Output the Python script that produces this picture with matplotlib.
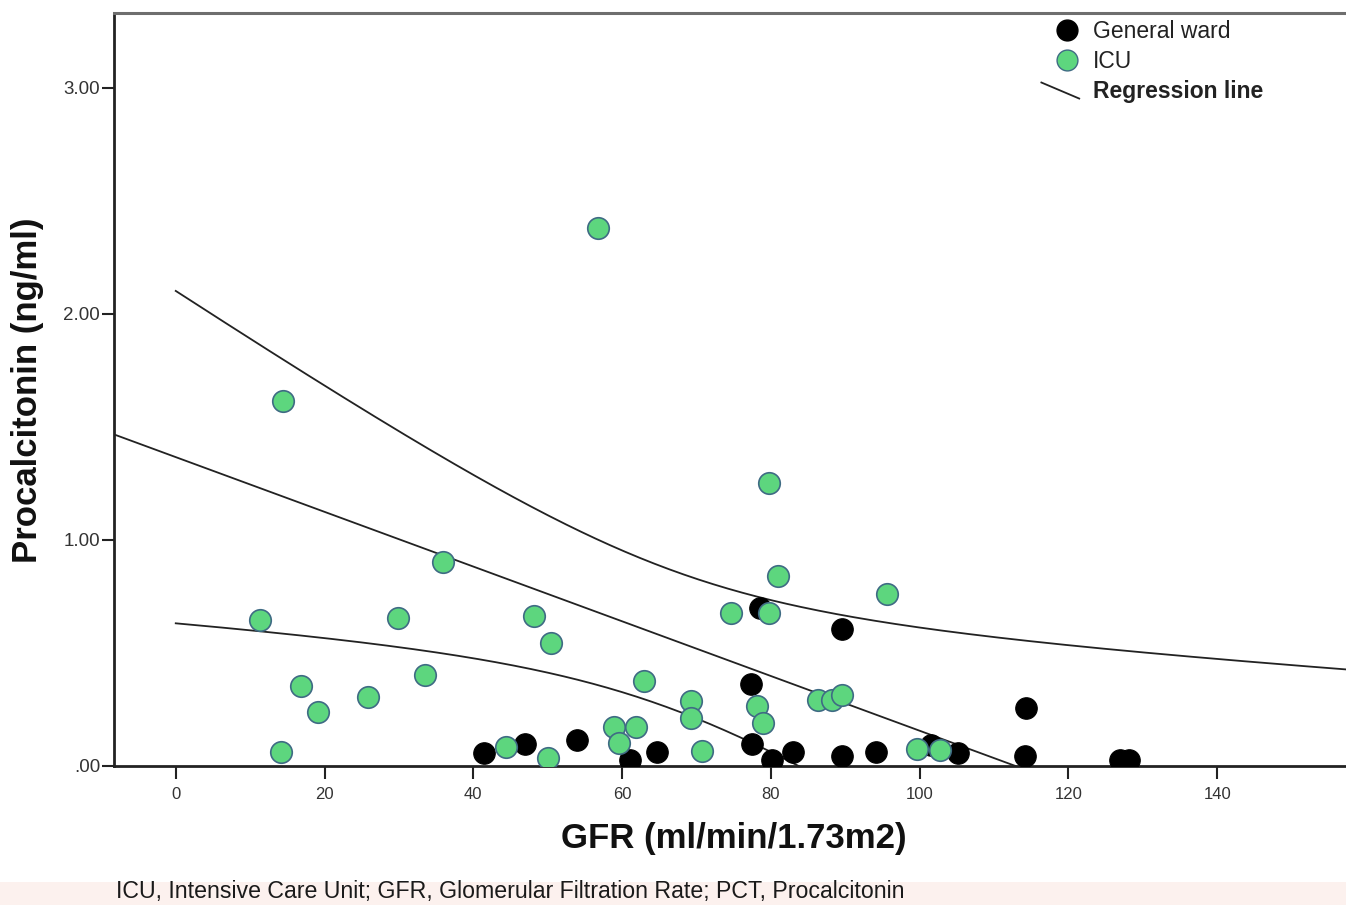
import numpy as np
import matplotlib
matplotlib.use("Agg")
import matplotlib.pyplot as plt
from matplotlib.lines import Line2D
from matplotlib.legend_handler import HandlerBase
from matplotlib.patches import Rectangle

# ---------------- data ----------------
icu_gfr = [56.7, 14.4, 79.8, 35.9, 80.9, 95.6, 74.6, 79.7, 48.2, 29.9, 11.3,
           50.5, 33.5, 62.9, 16.8, 25.8, 19.1, 14.1, 44.4, 50.1, 58.9, 59.6,
           61.9, 69.2, 69.3, 70.7, 78.1, 79.0, 86.3, 88.2, 89.6, 99.7, 102.8]
icu_pct = [2.38, 1.615, 1.252, 0.903, 0.841, 0.761, 0.677, 0.677, 0.664, 0.655,
           0.646, 0.544, 0.403, 0.376, 0.354, 0.305, 0.239, 0.062, 0.084, 0.035,
           0.173, 0.102, 0.173, 0.288, 0.212, 0.066, 0.265, 0.190, 0.292, 0.292,
           0.314, 0.075, 0.071]
ward_gfr = [41.4, 47.0, 54.0, 61.0, 64.7, 77.3, 77.5, 78.6, 80.1, 83.0, 89.5,
            89.5, 94.1, 101.5, 105.1, 114.3, 114.1, 126.9, 128.2]
ward_pct = [0.056, 0.096, 0.115, 0.027, 0.062, 0.363, 0.097, 0.699, 0.027,
            0.062, 0.606, 0.044, 0.062, 0.093, 0.057, 0.256, 0.044, 0.027, 0.027]

# regression line and 95% mean confidence band parameters
reg_intercept = 1.366
reg_slope = -0.0121
ci_center = 66.4
ci_a = 0.094
ci_b = 1.012e-4

x_ticks = [0, 20, 40, 60, 80, 100, 120, 140]
y_ticks = [0.0, 1.0, 2.0, 3.0]
y_ticklabels = [".00", "1.00", "2.00", "3.00"]

W, H = 1346, 905
fig = plt.figure(figsize=(W / 100, H / 100), dpi=100)
fig.patch.set_facecolor("white")
fig.patches.append(Rectangle((0, 0), 1, (H - 882) / H, transform=fig.transFigure,
                             facecolor="#fcf1ee", edgecolor="none", zorder=0))

ax = fig.add_axes([114 / W, 1 - 766 / H, 1 - 114 / W + 0.001, (766 - 13) / H])
ax.set_xlim(-8.3, 157.5)
ax.set_ylim(0, 3.33)

sans = ["Liberation Sans", "DejaVu Sans"]

# regression lines
xs_mid = np.linspace(-8.3, 157.5, 400)
ax.plot(xs_mid, reg_intercept + reg_slope * xs_mid, color="#222222", lw=1.3, zorder=2)
xs_ci = np.linspace(0, 157.5, 400)
yhat = reg_intercept + reg_slope * xs_ci
half = np.sqrt(ci_a + ci_b * (xs_ci - ci_center) ** 2)
ax.plot(xs_ci, yhat + half, color="#222222", lw=1.3, zorder=2)
ax.plot(xs_ci, yhat - half, color="#222222", lw=1.3, zorder=2)

# scatter
ms = 240
ax.scatter(ward_gfr, ward_pct, s=ms, c="black", edgecolors="black", linewidths=0.8,
           zorder=3)
ax.scatter(icu_gfr, icu_pct, s=ms, c="#5dd67e", edgecolors="#3f6b84", linewidths=1.2,
           zorder=4)

# axes styling
for side in ["left", "bottom"]:
    ax.spines[side].set_linewidth(2)
    ax.spines[side].set_color("#222222")
ax.spines["top"].set_linewidth(2.2)
ax.spines["top"].set_color("#6e6e6e")
ax.spines["right"].set_visible(False)

ax.set_xticks(x_ticks)
ax.set_xticklabels([str(t) for t in x_ticks], family=sans, fontsize=12, color="#333333")
ax.set_yticks(y_ticks)
ax.set_yticklabels(y_ticklabels, family=sans, fontsize=13.5, color="#333333")
ax.tick_params(axis="x", direction="out", length=9, width=1.5, pad=6, color="#222222")
ax.tick_params(axis="y", direction="out", length=9, width=1.5, pad=1, color="#222222")

fig.text(734 / W, 1 - 838 / H, "GFR (ml/min/1.73m2)", ha="center", va="center",
         family=sans, fontsize=25, fontweight="bold", color="#111111")
fig.text(28 / W, 1 - 390 / H, "Procalcitonin (ng/ml)", ha="center", va="center",
         rotation=90, family=sans, fontsize=25, fontweight="bold", color="#111111")
fig.text(116 / W, 1 - 891 / H,
         "ICU, Intensive Care Unit; GFR, Glomerular Filtration Rate; PCT, Procalcitonin",
         ha="left", va="center", family=sans, fontsize=16.7, color="#1a1a1a")


class HandlerDiag(HandlerBase):
    def create_artists(self, legend, orig_handle, xdescent, ydescent, width, height,
                       fontsize, trans):
        x0 = -xdescent - 0.5 * width
        x1 = -xdescent + width
        y0 = -ydescent + height * 0.95
        y1 = -ydescent - height * 0.05
        return [Line2D([x0, x1], [y0, y1], color="#222222", lw=1.3, transform=trans)]


h_ward = Line2D([], [], marker="o", ls="none", markersize=15, markerfacecolor="black",
                markeredgecolor="black")
h_icu = Line2D([], [], marker="o", ls="none", markersize=15, markerfacecolor="#5dd67e",
               markeredgecolor="#3f6b84")
h_reg = Line2D([], [], color="#222222", lw=1.3)
leg = fig.legend([h_ward, h_icu, h_reg], ["General ward", "ICU", "Regression line"],
                 loc="upper left", bbox_to_anchor=(1054 / W, 1 - 20 / H),
                 frameon=False, handlelength=1.1, handletextpad=0.6,
                 labelspacing=0.3, borderpad=0, borderaxespad=0,
                 prop={"family": sans, "size": 16.5},
                 handler_map={h_reg: HandlerDiag()})
for t, w in zip(leg.get_texts(), ["normal", "normal", "bold"]):
    t.set_color("#222222")
    t.set_fontweight(w)

fig.savefig("out.png", dpi=100)
